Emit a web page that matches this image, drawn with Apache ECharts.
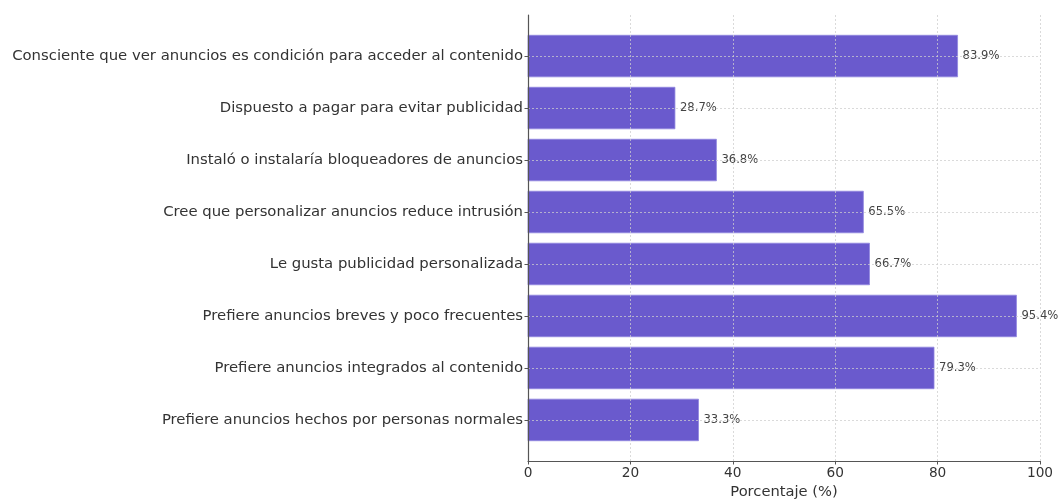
<!DOCTYPE html>
<html>
<head>
<meta charset="utf-8">
<script src="https://cdn.jsdelivr.net/npm/echarts@6/dist/echarts.min.js"></script>
<style>
  html, body { margin: 0; padding: 0; background: #fff; }
  #chart { width: 1061px; height: 500px; }
</style>
</head>
<body>
<div id="chart"></div>
<script>
// Survey answers, top to bottom
const categories = [
  'Consciente que ver anuncios es condición para acceder al contenido',
  'Dispuesto a pagar para evitar publicidad',
  'Instaló o instalaría bloqueadores de anuncios',
  'Cree que personalizar anuncios reduce intrusión',
  'Le gusta publicidad personalizada',
  'Prefiere anuncios breves y poco frecuentes',
  'Prefiere anuncios integrados al contenido',
  'Prefiere anuncios hechos por personas normales'
];
const percentages = [83.9, 28.7, 36.8, 65.5, 66.7, 95.4, 79.3, 33.3];
const xTicks = [0, 20, 40, 60, 80, 100];
const xAxisTitle = 'Porcentaje (%)';

const FONT = 'DejaVu Sans';
const rowIndex = categories.map((_, i) => i);

const chart = echarts.init(document.getElementById('chart'), null, { renderer: 'canvas' });

const gridLine = { show: true, lineStyle: { color: 'rgba(205,205,205,0.75)', type: [2, 2], width: 1 } };
const spine = { show: true, onZero: false, lineStyle: { color: '#555', width: 1.2 } };

chart.setOption({
  animation: false,
  backgroundColor: '#ffffff',
  grid: { left: 528, right: 21, top: 15, bottom: 39, containLabel: false, outerBoundsMode: 'none' },
  xAxis: {
    type: 'value',
    min: xTicks[0],
    max: xTicks[xTicks.length - 1],
    interval: xTicks[1] - xTicks[0],
    z: 3,
    name: xAxisTitle,
    nameLocation: 'middle',
    nameGap: 23,
    nameTextStyle: { fontFamily: FONT, fontSize: 14.7, color: '#333' },
    axisLine: spine,
    axisTick: { show: true, length: 3.5, lineStyle: { color: '#555' } },
    axisLabel: { fontFamily: FONT, fontSize: 13.7, color: '#333', margin: 5 },
    splitLine: gridLine
  },
  yAxis: {
    type: 'value',
    inverse: true,
    min: -0.79,
    max: 7.79,
    z: 3,
    axisLine: spine,
    axisTick: { show: true, length: 3.5, customValues: rowIndex, lineStyle: { color: '#555' } },
    axisLabel: {
      customValues: rowIndex,
      formatter: v => categories[Math.round(v)],
      fontFamily: FONT, fontSize: 14.85, color: '#333', margin: 5
    },
    splitLine: gridLine
  },
  series: [{
    type: 'custom',
    data: percentages.map((v, i) => [v, i]),
    encode: { x: 0, y: 1 },
    renderItem: (params, api) => {
      const v = api.value(0);
      const row = api.value(1);
      const p0 = api.coord([0, row]);
      const p1 = api.coord([v, row]);
      const h = api.size([0, 0.8])[1];
      return {
        type: 'group',
        children: [
          {
            type: 'rect',
            shape: { x: p0[0], y: p0[1] - h / 2, width: p1[0] - p0[0], height: h },
            style: { fill: '#6A5ACD', stroke: '#9186e0', lineWidth: 0.8 }
          },
          {
            type: 'text',
            x: p1[0] + 5,
            y: p1[1],
            style: {
              text: v.toFixed(1) + '%',
              fill: '#444',
              font: '11.6px "DejaVu Sans"',
              verticalAlign: 'middle',
              align: 'left'
            }
          }
        ]
      };
    }
  }]
});
</script>
</body>
</html>
